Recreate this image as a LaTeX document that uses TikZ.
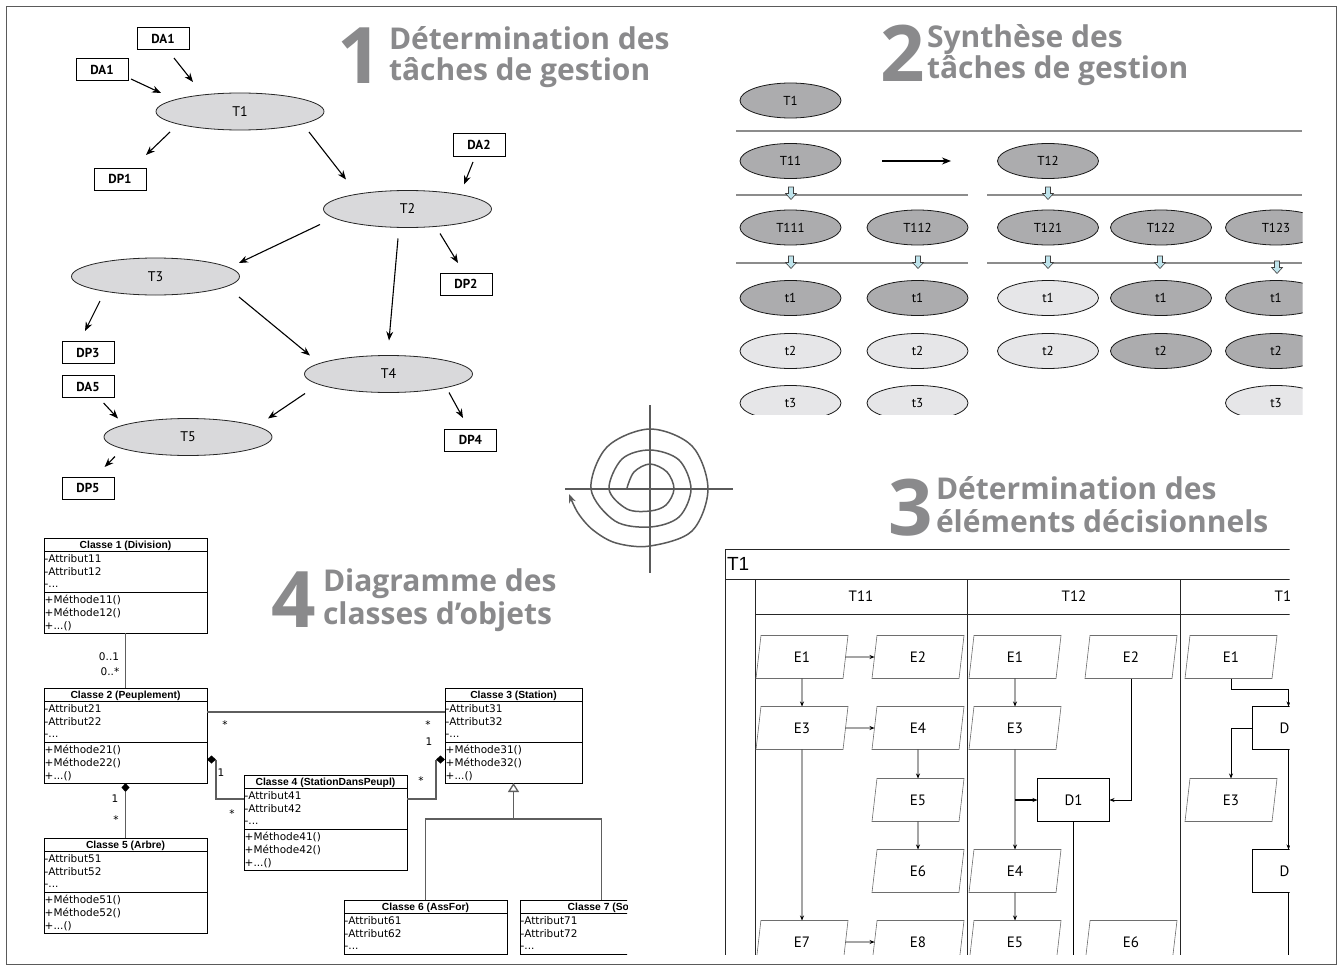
\documentclass[tikz,border=0pt]{standalone}
\usepackage{fontspec}
\setmainfont{Liberation Sans}
\newfontfamily\ttlfont{Open Sans}
\newfontfamily\lblfont{PT Sans}
\newfontfamily\umlfont{DejaVu Sans}
\usetikzlibrary{shapes.geometric,arrows.meta,calc}

\definecolor{framegray}{HTML}{5A5A5A}
\definecolor{ttlgray}{HTML}{8A8A8C}
\definecolor{taskfill}{HTML}{D9D9DB}
\definecolor{darkfill}{HTML}{ACACAE}
\definecolor{lightfill}{HTML}{E6E6E8}
\definecolor{rulegray}{HTML}{8C8C8C}
\definecolor{refinefill}{HTML}{BFE4EC}
\definecolor{iogray}{HTML}{6E6E6E}
\definecolor{assocgray}{HTML}{5E5E5E}
\definecolor{spiralgray}{HTML}{5A5A5A}

% two-line section heading, baseline on the second line
\newcommand\twolines[3]{\vbox{\baselineskip=#1pt\lineskiplimit=-60pt\lineskip=0pt
  \hbox{#2}\hbox{#3}}}

% small hollow down arrow marking a refinement step
\newcommand\refinearrow[2]{%
  \draw[draw=black!75,line width=0.6,fill=refinefill]
    (#1-2.5,#2) -- (#1+2.5,#2) -- (#1+2.5,#2+6.5) -- (#1+5.5,#2+6.5)
    -- (#1,#2+12.5) -- (#1-5.5,#2+6.5) -- (#1-2.5,#2+6.5) -- cycle;}

% UML class box, upper part: name, x, y (top), width, title, index
\newcommand\umlclasstop[6]{%
  \node[cls,minimum width=#4] (#1) at (#2,#3) {};
  \draw[clsrule] (#2,#3+13) -- ++(#4,0);
  \draw[clsrule] (#2,#3+54) -- ++(#4,0);
  \node[clshead] (#1h) at (#2+#4/2,#3+10.2) {#5};
  \node[clsline] (#1a) at (#2+0.7,#3+24.5) {-Attribut#61};
  \node[clsline] (#1b) at (#2+0.7,#3+37.5) {-Attribut#62};
  \node[clsline] (#1c) at (#2+0.7,#3+49.5) {-...};
}
% full UML class box with its operations
\newcommand\umlclass[6]{%
  \umlclasstop{#1}{#2}{#3}{#4}{#5}{#6}%
  \node[clsline] (#1d) at (#2+0.7,#3+65.5) {+Méthode#61()};
  \node[clsline] (#1e) at (#2+0.7,#3+78.5) {+Méthode#62()};
  \node[clsline] (#1f) at (#2+0.7,#3+91.5) {+...()};
}

\begin{document}
\begin{tikzpicture}[x=1pt,y=-1pt,
  every node/.style={inner sep=0,outer sep=0},
  ttl/.style={font=\ttlfont\bfseries\fontsize{30}{30}\selectfont,text=ttlgray,anchor=base west},
  ttlnum/.style={font=\ttlfont\bfseries\fontsize{78}{78}\selectfont,text=ttlgray,anchor=base east},
  task/.style={ellipse,draw=black!85,line width=0.8,fill=taskfill,minimum width=168,minimum height=37,
    font=\lblfont\fontsize{14}{14}\selectfont},
  databox/.style={draw=black,line width=1,fill=white,minimum width=52,minimum height=22,
    font=\lblfont\bfseries\fontsize{13}{13}\selectfont},
  flow/.style={-{Stealth[length=9pt,width=7pt]},line width=1.1},
  sub/.style={ellipse,draw=black!90,line width=0.8,minimum width=101,minimum height=35,
    font=\lblfont\fontsize{13}{13}\selectfont},
  dk/.style={sub,fill=darkfill},
  lt/.style={sub,fill=lightfill},
  rule/.style={draw=rulegray,line width=1.5},
  io/.style={trapezium,trapezium left angle=65,trapezium right angle=115,trapezium stretches body,
    minimum width=92,minimum height=43,draw=iogray,line width=0.6,
    font=\lblfont\fontsize{15}{15}\selectfont},
  dec/.style={rectangle,draw=black,line width=0.8,minimum width=72,minimum height=43,
    font=\lblfont\fontsize{15}{15}\selectfont},
  hdr/.style={font=\lblfont\fontsize{15}{15}\selectfont},
  lane/.style={draw=black!85,line width=1},
  fl/.style={-{Stealth[length=5pt,width=4pt]},line width=0.7},
  fl0/.style={line width=0.7},
  cls/.style={draw=black,line width=0.9,minimum height=95,anchor=north west},
  clsrule/.style={line width=0.9},
  clshead/.style={font=\bfseries\fontsize{10.3}{10.3}\selectfont,anchor=base},
  clsline/.style={font=\umlfont\fontsize{10.5}{10.5}\selectfont,anchor=base west},
  assoc/.style={draw=assocgray,line width=1.3},
  mult/.style={font=\umlfont\fontsize{10.5}{10.5}\selectfont},
  spiral/.style={draw=spiralgray,line width=1.5}
]
\useasboundingbox (0,0) rectangle (1343,971);
\fill[white] (0,0) rectangle (1343,971);
\draw[framegray,line width=1] (6.5,6.5) rectangle (1336.5,964.5);

% ---------- 1: management tasks ----------
\node[ttlnum] (n1) at (382,84) {1};
\node[ttl] (h1) at (389,81) {\twolines{31}{Détermination des}{tâches de gestion}};

\node[task] (t1) at (240,111.5) {T1};
\node[task] (t2) at (407.5,209) {T2};
\node[task] (t3) at (155.5,276.5) {T3};
\node[task] (t4) at (388.5,374) {T4};
\node[task] (t5) at (188,437) {T5};
\node[databox] (da1a) at (163,39) {DA1};
\node[databox] (da1b) at (102,70) {DA1};
\node[databox] (dp1) at (120,179) {DP1};
\node[databox] (da2) at (479,145) {DA2};
\node[databox] (dp2) at (466,284) {DP2};
\node[databox] (dp3) at (88,352.5) {DP3};
\node[databox] (da5) at (88,386.5) {DA5};
\node[databox] (dp4) at (470.5,440) {DP4};
\node[databox] (dp5) at (88,488) {DP5};

\draw[flow] ($(da1a.south)+(11,8)$) -- ($(t1.north)+(-47,-11)$);
\draw[flow] ($(da1b.east)+(3,9)$) -- ($(t1.west)+(5,-18.5)$);
\draw[flow] ($(t1.south)+(-70,2)$) -- ($(dp1.north)+(26,-13)$);
\draw[flow] ($(t1.south)+(69,2)$) -- ($(t2.north)+(-61.5,-11)$);
\draw[flow] ($(da2.south)+(-6,6)$) -- ($(t2.north)+(56.5,-6)$);
\draw[flow] ($(t2.south)+(-87.5,-3)$) -- ($(t3.north)+(83.5,5)$);
\draw[flow] ($(t2.south)+(-9.5,11)$) -- ($(t4.north)+(0.5,-15)$);
\draw[flow] ($(t2.south)+(32.5,6)$) -- ($(dp2.north)+(-8,-10)$);
\draw[flow] ($(t3.south)+(-55.5,6)$) -- ($(dp3.north)+(-3,-10.5)$);
\draw[flow] ($(t3.south)+(83.5,2)$) -- ($(t4.north)+(-78.5,0)$);
\draw[flow] ($(da5.south)+(15.6,5.5)$) -- ($(t5.north)+(-70,0)$);
\draw[flow] ($(t4.south)+(-83.5,1)$) -- ($(t5.north)+(80,0)$);
\draw[flow] ($(t4.south)+(60.5,0)$) -- ($(dp4.north)+(-7.5,-11)$);
\draw[flow] ($(t5.south)+(-73,1)$) -- ($(dp5.north)+(16.6,-10)$);

% ---------- 2: task synthesis ----------
\node[ttlnum] (n2) at (925,82) {2};
\node[ttl] (h2) at (927,79) {\twolines{31}{Synthèse des}{tâches de gestion}};

\begin{scope}
\clip (700,70) rectangle (1302.5,414);
\node[dk] (s2t1) at (790.5,100.5) {T1};
\draw[rule] (736,131) -- (1302,131);
\node[dk] (s2t11) at (790.5,161) {T11};
\node[dk] (s2t12) at (1048,161) {T12};
\draw[-{Stealth[length=9pt,width=7pt]},line width=1.2,shorten <=41pt,shorten >=46.5pt] (s2t11) -- (s2t12);
\draw[rule] (736,195) -- (968,195);
\draw[rule] (987,195) -- (1302,195);
\refinearrow{791}{187}
\refinearrow{1048}{187}
\node[dk] (s2t111) at (790.5,227.5) {T111};
\node[dk] (s2t112) at (917.5,227.5) {T112};
\node[dk] (s2t121) at (1048,227.5) {T121};
\node[dk] (s2t122) at (1161,227.5) {T122};
\node[dk] (s2t123) at (1276,227.5) {T123};
\draw[rule] (736,263) -- (968,263);
\draw[rule] (987,263) -- (1302,263);
\refinearrow{791}{256}
\refinearrow{918}{256}
\refinearrow{1048}{256}
\refinearrow{1160}{256}
\refinearrow{1277}{261}
\node[dk] (u1a) at (790.5,298) {t1};
\node[dk] (u2a) at (917.5,298) {t1};
\node[lt] (u3a) at (1048,298) {t1};
\node[dk] (u4a) at (1161,298) {t1};
\node[dk] (u5a) at (1276,298) {t1};
\node[lt] (u1b) at (790.5,351) {t2};
\node[lt] (u2b) at (917.5,351) {t2};
\node[lt] (u3b) at (1048,351) {t2};
\node[dk] (u4b) at (1161,351) {t2};
\node[dk] (u5b) at (1276,351) {t2};
\node[lt] (u1c) at (790.5,403) {t3};
\node[lt] (u2c) at (917.5,403) {t3};
\node[lt] (u5c) at (1276,403) {t3};
\end{scope}

% ---------- iteration spiral ----------
\draw[spiral] (565,489) -- (733,489);
\draw[spiral] (650,405) -- (650,573);
\draw[spiral,-{Stealth[length=9pt,width=7pt]}] plot[smooth,tension=0.55] coordinates {
  (627,488) (634,472) (650,464) (667,472) (674,489) (666,505) (650,511) (627,509)
  (609,489) (622,459) (650,450) (679,460) (691,489) (679,517) (650,527) (615,521)
  (591,489) (607,447) (650,429) (692,446) (708,489) (692,531) (650,546) (616,543)
  (593,530) (578,513) (569,494)};

% ---------- 3: decision elements ----------
\node[ttlnum] (n3) at (933,535) {3};
\node[ttl] (h3) at (936,532) {\twolines{33}{Détermination des}{éléments décisionnels}};

\begin{scope}
\clip (700,540) rectangle (1289.5,954);
\draw[lane] (725,549) -- (1300,549);
\draw[lane] (725,579) -- (1300,579);
\draw[lane] (755,614) -- (1300,614);
\draw[lane] (725,549) -- (725,960);
\draw[lane] (755,579) -- (755,960);
\draw[lane] (967,579) -- (967,960);
\draw[lane] (1180.5,579) -- (1180.5,960);
\node[anchor=west,font=\fontsize{19}{19}\selectfont] (lanet1) at (727,564) {T1};
\node[hdr] (h11) at (861,596.5) {T11};
\node[hdr] (h12) at (1074,596.5) {T12};
\node[hdr] (h13) at (1287,596.5) {T13};

\node[io] (a1) at (802,657) {E1};
\node[io] (a2) at (918,657) {E2};
\node[io] (a3) at (802,728) {E3};
\node[io] (a4) at (918,728) {E4};
\node[io] (a5) at (918,800) {E5};
\node[io] (a6) at (918,871) {E6};
\node[io] (a7) at (802,942) {E7};
\node[io] (a8) at (918,942) {E8};
\draw[fl] (a1) -- (a2);
\draw[fl] (a1) -- (a3);
\draw[fl] (a3) -- (a4);
\draw[fl] (a3) -- (a7);
\draw[fl] (a4) -- (a5);
\draw[fl] (a5) -- (a6);
\draw[fl] (a7) -- (a8);

\node[io] (b1) at (1015,657) {E1};
\node[io] (b2) at (1131,657) {E2};
\node[io] (b3) at (1015,728) {E3};
\node[dec] (bd1) at (1073.5,800) {D1};
\node[io] (b4) at (1015,871) {E4};
\node[io] (b5) at (1015,942) {E5};
\node[io] (b6) at (1131,942) {E6};
\draw[fl] (b1) -- (b3);
\draw[fl] (b3) -- (b4);
\draw[fl] (b4) -- (b5);
\draw[fl,line width=1.1] (b3.center |- bd1.west) -- (bd1.west);
\draw[fl] (b2) |- (bd1);
\draw[fl0] (bd1.south) -- ++(0,200);

\node[io] (g1) at (1231,657) {E1};
\node[dec] (gd1) at (1288.5,728) {D2};
\node[io] (g3) at (1231,800) {E3};
\node[dec] (gd2) at (1288.5,871) {D3};
\draw[fl] (g1.center |- g1.south) -- ++(0,11) -| (gd1.north);
\draw[fl] (gd1.west) -| (g3);
\draw[fl] (gd1) -- (gd2);
\draw[fl0] (gd2.south) -- ++(0,200);
\end{scope}

% ---------- 4: class diagram ----------
\node[ttlnum] (n4) at (316,627) {4};
\node[ttl] (h4) at (323,624) {\twolines{33}{Diagramme des}{classes d’objets}};

\umlclass{c1}{44}{538}{163}{Classe 1 (Division)}{1}
\umlclass{c2}{44}{688}{163}{Classe 2 (Peuplement)}{2}
\umlclass{c3}{445}{688}{137}{Classe 3 (Station)}{3}
\umlclass{c4}{244}{775}{163}{Classe 4 (StationDansPeupl)}{4}
\umlclass{c5}{44}{838}{163}{Classe 5 (Arbre)}{5}
\begin{scope}
\clip (330,895) rectangle (627,954);
\umlclasstop{c6}{344}{900}{163}{Classe 6 (AssFor)}{6}
\umlclasstop{c7}{520}{900}{163}{Classe 7 (Sol)}{7}
\end{scope}

% associations
\draw[assoc] (c1.south) -- (c2.north);
\node[mult] (m1) at (109,657) {0..1};
\node[mult] (m2) at (110,672) {0..*};
\draw[assoc] ($(c2.north east)+(0,24)$) -- ($(c3.north west)+(0,24)$);
\node[mult] (m3) at (225,725) {*};
\node[mult] (m4) at (428,725) {*};

% compositions
\fill ($(c2.north east)+(0,71.5)$) -- ++(4.5,-4) -- ++(4.5,4) -- ++(-4.5,4) -- cycle;
\draw[assoc] ($(c2.north east)+(9,71.5)$) |- ($(c4.north west)+(0,24)$);
\node[mult] (m5) at (221,773) {1};
\node[mult] (m6) at (232,814) {*};
\fill ($(c3.north west)+(0,71.5)$) -- ++(-4.5,-4) -- ++(-4.5,4) -- ++(4.5,4) -- cycle;
\draw[assoc] ($(c3.north west)+(-9,71.5)$) |- ($(c4.north east)+(0,24)$);
\node[mult] (m7) at (429,742) {1};
\node[mult] (m8) at (421,781) {*};
\fill (c2.south) -- ++(4,4.5) -- ++(-4,4.5) -- ++(-4,-4.5) -- cycle;
\draw[assoc] ($(c2.south)+(0,9)$) -- (c5.north);
\node[mult] (m9) at (115,799) {1};
\node[mult] (m10) at (116,820) {*};

% generalisation
\draw[assoc] (c6.north) |- (c3.south |- 0,819) -| (c7.north);
\draw[assoc,-{Triangle[open,length=9pt,width=11pt]}] (c3.south |- 0,819) -- (c3.south);
\end{tikzpicture}
\end{document}
